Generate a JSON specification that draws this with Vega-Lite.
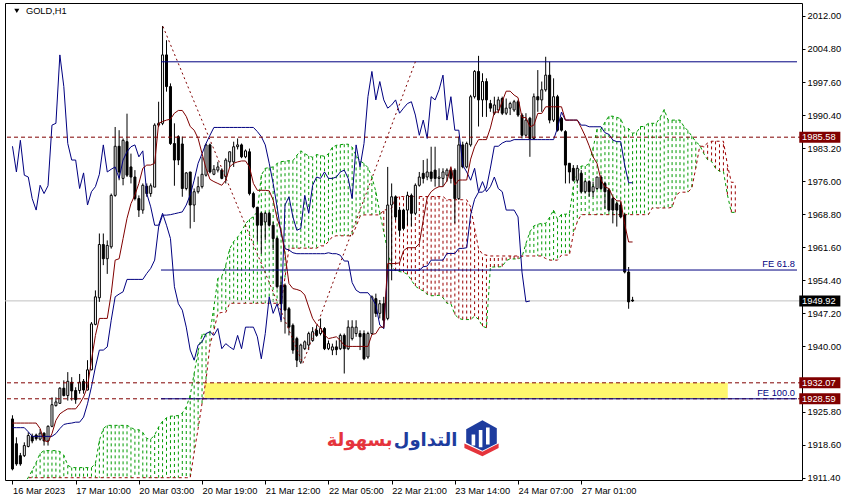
{
"$schema":"https://vega.github.io/schema/vega-lite/v6.json",
"width":797,"height":477,
"autosize":{"type":"none"},
"padding":{"left":5,"top":3,"right":49,"bottom":22},
"background":"#ffffff",
"config":{"view":{"stroke":"#000000","strokeWidth":1},"font":"Liberation Sans",
 "axis":{"labelOverlap":false,"labelSeparation":0,"labelBound":false,"labelFlush":false,"grid":false,"domain":false,"ticks":true,"tickColor":"#000000","labelColor":"#000000","labelFont":"Liberation Sans","labelFontSize":9.3,"labelPadding":2},
 "axisX":{"tickSize":4,"labelAlign":"left","labelDx":1,"labelBaseline":"top"},
 "axisY":{"tickSize":3,"labelBaseline":"middle","labelAlign":"left"}},
"datasets":{
"bars":[
{"i":0,"o":1924.2,"h":1925.0,"l":1913.0,"c":1913.3,"t":1923.3,"k":1922.3,"ch":1983.6},
{"i":1,"o":1918.8,"h":1920.2,"l":1914.0,"c":1914.4,"t":1923.3,"k":1922.3,"ch":1978.0},
{"i":2,"o":1916.2,"h":1916.8,"l":1914.0,"c":1914.4,"t":1923.3,"k":1922.3,"ch":1984.9},
{"i":3,"o":1916.2,"h":1919.1,"l":1915.9,"c":1918.4,"t":1923.3,"k":1922.3,"ch":1977.3},
{"i":4,"o":1918.2,"h":1921.3,"l":1918.0,"c":1920.6,"t":1923.3,"k":1921.4,"ch":1976.9},
{"i":5,"o":1920.4,"h":1921.0,"l":1918.9,"c":1919.4,"t":1923.3,"k":1920.4,"ch":1972.2},
{"i":6,"o":1920.7,"h":1921.0,"l":1919.5,"c":1919.9,"t":1923.3,"k":1920.4,"ch":1969.7},
{"i":7,"o":1919.8,"h":1922.0,"l":1919.5,"c":1921.1,"t":1922.1,"k":1920.4,"ch":1975.1},
{"i":8,"o":1921.1,"h":1921.3,"l":1918.4,"c":1919.4,"t":1919.5,"k":1920.4,"ch":1973.3},
{"i":9,"o":1919.4,"h":1922.8,"l":1918.4,"c":1922.6,"t":1919.2,"k":1920.4,"ch":1975.0},
{"i":10,"o":1922.6,"h":1928.9,"l":1922.4,"c":1927.3,"t":1921.0,"k":1920.4,"ch":1988.2},
{"i":11,"o":1927.1,"h":1928.9,"l":1926.9,"c":1927.9,"t":1923.9,"k":1921.0,"ch":1988.6},
{"i":12,"o":1927.6,"h":1931.1,"l":1927.5,"c":1930.9,"t":1925.3,"k":1922.1,"ch":2003.5},
{"i":13,"o":1930.9,"h":1932.6,"l":1929.1,"c":1929.3,"t":1925.9,"k":1923.0,"ch":1996.6},
{"i":14,"o":1929.3,"h":1934.4,"l":1928.2,"c":1932.4,"t":1926.4,"k":1923.2,"ch":1984.2},
{"i":15,"o":1932.2,"h":1933.3,"l":1928.2,"c":1930.3,"t":1926.4,"k":1923.3,"ch":1980.6},
{"i":16,"o":1930.4,"h":1931.1,"l":1927.5,"c":1928.4,"t":1926.4,"k":1923.5,"ch":1980.6},
{"i":17,"o":1930.4,"h":1934.0,"l":1929.7,"c":1932.2,"t":1927.5,"k":1923.5,"ch":1974.4},
{"i":18,"o":1932.4,"h":1932.9,"l":1929.7,"c":1930.5,"t":1929.0,"k":1924.6,"ch":1977.8},
{"i":19,"o":1930.5,"h":1937.0,"l":1930.4,"c":1934.9,"t":1931.2,"k":1927.5,"ch":1970.8},
{"i":20,"o":1934.9,"h":1945.3,"l":1934.8,"c":1944.9,"t":1937.0,"k":1931.2,"ch":1973.7},
{"i":21,"o":1944.8,"h":1952.2,"l":1944.6,"c":1950.8,"t":1942.4,"k":1935.5,"ch":1974.8},
{"i":22,"o":1950.6,"h":1964.6,"l":1949.7,"c":1962.2,"t":1946.1,"k":1939.2,"ch":1977.5},
{"i":23,"o":1962.2,"h":1964.6,"l":1957.7,"c":1959.1,"t":1946.1,"k":1939.2,"ch":1983.9},
{"i":24,"o":1959.1,"h":1963.1,"l":1955.8,"c":1962.0,"t":1946.1,"k":1939.9,"ch":1978.0},
{"i":25,"o":1961.7,"h":1973.3,"l":1961.3,"c":1972.9,"t":1951.5,"k":1945.7,"ch":1978.6},
{"i":26,"o":1972.9,"h":1987.8,"l":1972.6,"c":1983.6,"t":1958.8,"k":1950.8,"ch":1979.1},
{"i":27,"o":1983.6,"h":1987.1,"l":1976.2,"c":1978.0,"t":1959.1,"k":1951.4,"ch":1976.6},
{"i":28,"o":1976.6,"h":1985.3,"l":1975.1,"c":1984.9,"t":1963.5,"k":1951.9,"ch":1980.6},
{"i":29,"o":1984.6,"h":1990.7,"l":1976.9,"c":1977.3,"t":1967.9,"k":1954.6,"ch":1982.4},
{"i":30,"o":1979.1,"h":1982.0,"l":1975.5,"c":1976.9,"t":1971.1,"k":1954.6,"ch":1983.5},
{"i":31,"o":1976.9,"h":1978.4,"l":1971.8,"c":1972.2,"t":1973.0,"k":1954.6,"ch":1983.9},
{"i":32,"o":1972.2,"h":1972.9,"l":1968.2,"c":1969.7,"t":1975.5,"k":1954.6,"ch":1981.3},
{"i":33,"o":1969.7,"h":1975.5,"l":1968.9,"c":1975.1,"t":1978.8,"k":1954.6,"ch":1982.6},
{"i":34,"o":1974.9,"h":1975.5,"l":1972.6,"c":1973.3,"t":1979.5,"k":1955.9,"ch":1973.3},
{"i":35,"o":1973.3,"h":1975.5,"l":1972.6,"c":1975.0,"t":1979.5,"k":1957.0,"ch":1970.4},
{"i":36,"o":1974.7,"h":1988.6,"l":1974.7,"c":1988.2,"t":1979.9,"k":1958.8,"ch":1966.4},
{"i":37,"o":1988.2,"h":1993.3,"l":1987.8,"c":1988.6,"t":1988.6,"k":1966.0,"ch":1966.4},
{"i":38,"o":1988.6,"h":2009.8,"l":1988.2,"c":2003.5,"t":1989.0,"k":1968.6,"ch":1969.0},
{"i":39,"o":2003.5,"h":2006.7,"l":1995.5,"c":1996.6,"t":1989.3,"k":1968.6,"ch":1966.4},
{"i":40,"o":1996.6,"h":1997.3,"l":1983.9,"c":1984.2,"t":1989.5,"k":1968.7,"ch":1963.5},
{"i":41,"o":1984.2,"h":1988.6,"l":1975.0,"c":1980.6,"t":1990.8,"k":1968.9,"ch":1953.0},
{"i":42,"o":1985.7,"h":1986.0,"l":1979.5,"c":1980.6,"t":1991.4,"k":1969.1,"ch":1949.3},
{"i":43,"o":1984.1,"h":1985.7,"l":1972.6,"c":1974.4,"t":1991.4,"k":1969.3,"ch":1947.9},
{"i":44,"o":1974.4,"h":1978.0,"l":1974.0,"c":1977.8,"t":1990.1,"k":1970.8,"ch":1944.2},
{"i":45,"o":1978.0,"h":1978.0,"l":1965.7,"c":1970.8,"t":1987.9,"k":1973.0,"ch":1939.2},
{"i":46,"o":1970.8,"h":1974.4,"l":1967.1,"c":1973.7,"t":1987.1,"k":1976.2,"ch":1937.0},
{"i":47,"o":1973.7,"h":1977.0,"l":1973.3,"c":1974.8,"t":1985.3,"k":1979.9,"ch":1940.3},
{"i":48,"o":1974.8,"h":1981.3,"l":1974.4,"c":1977.5,"t":1982.0,"k":1982.0,"ch":1941.0},
{"i":49,"o":1977.3,"h":1984.2,"l":1977.0,"c":1983.9,"t":1978.8,"k":1984.2,"ch":1942.8},
{"i":50,"o":1983.9,"h":1984.2,"l":1977.7,"c":1978.0,"t":1976.4,"k":1986.0,"ch":1943.2},
{"i":51,"o":1977.5,"h":1979.5,"l":1977.3,"c":1978.6,"t":1975.9,"k":1987.7,"ch":1942.4},
{"i":52,"o":1978.4,"h":1980.2,"l":1977.9,"c":1979.1,"t":1975.5,"k":1987.7,"ch":1943.9},
{"i":53,"o":1978.4,"h":1978.8,"l":1976.4,"c":1976.6,"t":1975.1,"k":1987.7,"ch":1939.5},
{"i":54,"o":1977.0,"h":1981.0,"l":1975.5,"c":1980.6,"t":1976.2,"k":1987.7,"ch":1940.6},
{"i":55,"o":1980.2,"h":1982.4,"l":1979.1,"c":1982.4,"t":1979.1,"k":1987.7,"ch":1939.9},
{"i":56,"o":1980.2,"h":1984.6,"l":1979.1,"c":1983.5,"t":1979.9,"k":1987.7,"ch":1939.3},
{"i":57,"o":1983.5,"h":1985.3,"l":1982.9,"c":1983.9,"t":1980.2,"k":1987.7,"ch":1942.4},
{"i":58,"o":1983.9,"h":1984.2,"l":1981.0,"c":1981.3,"t":1980.4,"k":1987.7,"ch":1939.5},
{"i":59,"o":1981.3,"h":1982.9,"l":1981.0,"c":1982.6,"t":1980.4,"k":1987.7,"ch":1944.2},
{"i":60,"o":1982.4,"h":1983.1,"l":1972.9,"c":1973.3,"t":1979.1,"k":1987.7,"ch":1944.2},
{"i":61,"o":1973.3,"h":1973.7,"l":1970.1,"c":1970.4,"t":1975.5,"k":1987.7,"ch":1944.2},
{"i":62,"o":1970.3,"h":1970.4,"l":1962.8,"c":1966.4,"t":1974.0,"k":1986.8,"ch":1942.1},
{"i":63,"o":1969.0,"h":1969.3,"l":1960.2,"c":1966.4,"t":1974.0,"k":1985.7,"ch":1937.3},
{"i":64,"o":1967.1,"h":1969.3,"l":1963.2,"c":1969.0,"t":1974.0,"k":1983.9,"ch":1942.8},
{"i":65,"o":1969.0,"h":1969.3,"l":1966.1,"c":1966.4,"t":1973.9,"k":1979.9,"ch":1950.8},
{"i":66,"o":1966.4,"h":1967.1,"l":1961.0,"c":1963.5,"t":1971.9,"k":1975.5,"ch":1947.2},
{"i":67,"o":1963.5,"h":1963.9,"l":1952.6,"c":1953.0,"t":1967.9,"k":1970.4,"ch":1949.3},
{"i":68,"o":1953.3,"h":1955.2,"l":1945.3,"c":1949.3,"t":1965.3,"k":1964.6,"ch":1945.7},
{"i":69,"o":1953.3,"h":1953.7,"l":1942.8,"c":1947.9,"t":1960.2,"k":1961.3,"ch":1970.8},
{"i":70,"o":1948.2,"h":1948.6,"l":1942.4,"c":1944.2,"t":1953.7,"k":1961.0,"ch":1972.6},
{"i":71,"o":1944.6,"h":1945.0,"l":1938.4,"c":1939.2,"t":1952.6,"k":1960.4,"ch":1968.2},
{"i":72,"o":1941.7,"h":1942.1,"l":1935.5,"c":1937.0,"t":1952.4,"k":1960.2,"ch":1965.3},
{"i":73,"o":1936.6,"h":1940.6,"l":1936.2,"c":1940.3,"t":1952.1,"k":1960.2,"ch":1965.7},
{"i":74,"o":1939.5,"h":1941.3,"l":1939.2,"c":1941.0,"t":1951.2,"k":1960.2,"ch":1972.9},
{"i":75,"o":1940.3,"h":1943.2,"l":1939.2,"c":1942.8,"t":1948.6,"k":1960.2,"ch":1969.0},
{"i":76,"o":1941.3,"h":1944.2,"l":1941.0,"c":1943.2,"t":1946.1,"k":1960.2,"ch":1975.1},
{"i":77,"o":1943.5,"h":1944.6,"l":1942.1,"c":1942.4,"t":1944.8,"k":1960.2,"ch":1976.9},
{"i":78,"o":1942.8,"h":1946.1,"l":1942.4,"c":1943.9,"t":1944.0,"k":1960.2,"ch":1976.6},
{"i":79,"o":1943.9,"h":1944.2,"l":1939.2,"c":1939.5,"t":1942.5,"k":1960.2,"ch":1978.0},
{"i":80,"o":1939.5,"h":1941.3,"l":1939.2,"c":1940.6,"t":1941.7,"k":1960.4,"ch":1976.6},
{"i":81,"o":1939.2,"h":1940.6,"l":1938.1,"c":1939.9,"t":1941.9,"k":1960.2,"ch":1976.6},
{"i":82,"o":1939.9,"h":1941.3,"l":1938.1,"c":1939.3,"t":1942.1,"k":1960.2,"ch":1976.9},
{"i":83,"o":1939.5,"h":1942.8,"l":1939.2,"c":1942.4,"t":1941.3,"k":1959.85,"ch":1978.0},
{"i":84,"o":1942.4,"h":1942.8,"l":1934.1,"c":1939.5,"t":1940.2,"k":1958.6,"ch":1978.4},
{"i":85,"o":1939.5,"h":1945.7,"l":1939.2,"c":1944.2,"t":1940.0,"k":1958.6,"ch":1976.6},
{"i":86,"o":1941.7,"h":1945.7,"l":1941.3,"c":1944.2,"t":1940.0,"k":1953.9,"ch":1972.2},
{"i":87,"o":1942.8,"h":1945.7,"l":1942.1,"c":1944.2,"t":1940.0,"k":1952.25,"ch":1983.9},
{"i":88,"o":1942.8,"h":1943.5,"l":1939.2,"c":1942.1,"t":1940.0,"k":1951.7,"ch":1979.1},
{"i":89,"o":1942.8,"h":1943.5,"l":1937.0,"c":1937.3,"t":1940.0,"k":1951.7,"ch":1984.2},
{"i":90,"o":1937.7,"h":1943.2,"l":1937.3,"c":1942.8,"t":1940.0,"k":1951.7,"ch":1994.4},
{"i":91,"o":1942.8,"h":1951.1,"l":1942.6,"c":1950.8,"t":1942.6,"k":1950.6,"ch":1999.9},
{"i":92,"o":1950.4,"h":1951.5,"l":1946.4,"c":1947.2,"t":1942.8,"k":1949.0,"ch":1993.7},
{"i":93,"o":1947.2,"h":1950.1,"l":1946.1,"c":1949.3,"t":1944.2,"k":1944.65,"ch":1997.7},
{"i":94,"o":1949.3,"h":1950.8,"l":1943.9,"c":1945.7,"t":1944.2,"k":1943.9,"ch":1993.7},
{"i":95,"o":1946.1,"h":1979.1,"l":1945.7,"c":1970.8,"t":1958.05,"k":1956.6,"ch":1991.9},
{"i":96,"o":1970.8,"h":1975.5,"l":1954.4,"c":1972.6,"t":1958.05,"k":1956.6,"ch":1992.6},
{"i":97,"o":1972.6,"h":1972.9,"l":1967.5,"c":1968.2,"t":1958.05,"k":1956.6,"ch":1993.7},
{"i":98,"o":1969.7,"h":1970.4,"l":1963.9,"c":1965.3,"t":1958.2,"k":1956.6,"ch":1990.8},
{"i":99,"o":1969.7,"h":1970.0,"l":1965.3,"c":1965.7,"t":1960.85,"k":1956.6,"ch":1991.9},
{"i":100,"o":1969.7,"h":1973.7,"l":1966.4,"c":1972.9,"t":1961.5,"k":1956.6,"ch":1992.9},
{"i":101,"o":1972.9,"h":1973.3,"l":1966.1,"c":1969.0,"t":1961.5,"k":1956.6,"ch":1993.3},
{"i":102,"o":1969.0,"h":1975.5,"l":1968.6,"c":1975.1,"t":1961.5,"k":1956.6,"ch":1990.4},
{"i":103,"o":1975.1,"h":1978.0,"l":1974.8,"c":1976.9,"t":1962.4,"k":1956.6,"ch":1986.0},
{"i":104,"o":1977.7,"h":1980.6,"l":1975.5,"c":1976.6,"t":1967.5,"k":1957.35,"ch":1989.3},
{"i":105,"o":1976.9,"h":1980.9,"l":1976.2,"c":1978.0,"t":1972.4,"k":1957.5,"ch":1985.3},
{"i":106,"o":1978.0,"h":1983.5,"l":1975.9,"c":1976.6,"t":1973.7,"k":1958.8,"ch":1994.4},
{"i":107,"o":1978.4,"h":1983.5,"l":1974.8,"c":1976.6,"t":1974.4,"k":1958.8,"ch":1993.7},
{"i":108,"o":1976.6,"h":1978.8,"l":1974.8,"c":1976.9,"t":1974.8,"k":1958.8,"ch":1995.9},
{"i":109,"o":1976.6,"h":1978.8,"l":1974.8,"c":1978.0,"t":1974.8,"k":1958.8,"ch":1999.1},
{"i":110,"o":1977.3,"h":1978.8,"l":1975.9,"c":1978.4,"t":1976.05,"k":1960.25,"ch":1989.3},
{"i":111,"o":1978.4,"h":1978.8,"l":1975.5,"c":1976.6,"t":1979.15,"k":1960.25,"ch":1994.4},
{"i":112,"o":1978.4,"h":1978.8,"l":1966.8,"c":1972.2,"t":1975.15,"k":1960.25,"ch":1987.1},
{"i":113,"o":1972.2,"h":1985.7,"l":1971.9,"c":1983.9,"t":1976.25,"k":1961.35,"ch":1987.1},
{"i":114,"o":1983.9,"h":1984.6,"l":1978.8,"c":1979.1,"t":1976.25,"k":1961.35,"ch":1979.5},
{"i":115,"o":1979.1,"h":1984.6,"l":1978.8,"c":1984.2,"t":1976.25,"k":1961.5,"ch":1978.0},
{"i":116,"o":1983.9,"h":1994.8,"l":1983.5,"c":1994.4,"t":1980.8,"k":1968.7,"ch":1976.2},
{"i":117,"o":1994.4,"h":2000.2,"l":1994.0,"c":1999.9,"t":1983.5,"k":1972.05,"ch":1978.8},
{"i":118,"o":1999.9,"h":2003.3,"l":1987.9,"c":1993.7,"t":1985.05,"k":1973.6,"ch":1973.7},
{"i":119,"o":1993.7,"h":1999.5,"l":1990.0,"c":1997.7,"t":1985.05,"k":1973.6,"ch":1975.9},
{"i":120,"o":1997.7,"h":1998.4,"l":1990.0,"c":1993.7,"t":1985.05,"k":1974.5,"ch":1973.7},
{"i":121,"o":1992.9,"h":1993.7,"l":1991.1,"c":1991.9,"t":1987.6,"k":1978.85,"ch":1974.8},
{"i":122,"o":1990.8,"h":1994.4,"l":1990.4,"c":1992.6,"t":1991.05,"k":1983.6,"ch":1976.9},
{"i":123,"o":1991.5,"h":1994.4,"l":1990.8,"c":1993.7,"t":1991.05,"k":1983.6,"ch":1974.4},
{"i":124,"o":1994.0,"h":1994.4,"l":1990.4,"c":1990.8,"t":1993.4,"k":1984.3,"ch":1973.7},
{"i":125,"o":1990.8,"h":1994.0,"l":1990.4,"c":1991.9,"t":1995.6,"k":1984.7,"ch":1969.7},
{"i":126,"o":1991.9,"h":1993.3,"l":1990.4,"c":1992.9,"t":1995.6,"k":1984.7,"ch":1969.7},
{"i":127,"o":1991.5,"h":1993.7,"l":1991.1,"c":1993.3,"t":1994.75,"k":1985.05,"ch":1969.7},
{"i":128,"o":1993.3,"h":1993.7,"l":1990.0,"c":1990.4,"t":1994.2,"k":1985.05,"ch":1968.2},
{"i":129,"o":1990.4,"h":1990.8,"l":1985.3,"c":1986.0,"t":1989.85,"k":1985.05,"ch":1956.2},
{"i":130,"o":1986.0,"h":1990.8,"l":1985.7,"c":1989.3,"t":1989.85,"k":1985.05,"ch":1949.7},
{"i":131,"o":1989.7,"h":1990.0,"l":1981.3,"c":1985.3,"t":1987.85,"k":1985.05,"ch":1949.9},
{"i":132,"o":1985.3,"h":1995.1,"l":1985.0,"c":1994.4,"t":1988.2,"k":1985.05},
{"i":133,"o":1994.4,"h":2000.2,"l":1991.1,"c":1993.7,"t":1990.75,"k":1985.05},
{"i":134,"o":1993.7,"h":1997.7,"l":1991.1,"c":1995.9,"t":1990.75,"k":1985.05},
{"i":135,"o":1995.9,"h":2003.1,"l":1995.5,"c":1999.1,"t":1992.2,"k":1985.05},
{"i":136,"o":1999.1,"h":2002.0,"l":1988.6,"c":1989.3,"t":1992.2,"k":1985.05},
{"i":137,"o":1989.3,"h":1998.4,"l":1988.9,"c":1994.4,"t":1992.2,"k":1985.05},
{"i":138,"o":1994.4,"h":1994.8,"l":1986.8,"c":1987.1,"t":1992.2,"k":1987.6},
{"i":139,"o":1989.7,"h":1990.0,"l":1986.8,"c":1987.1,"t":1992.2,"k":1991.05},
{"i":140,"o":1986.8,"h":1987.1,"l":1975.5,"c":1979.5,"t":1989.3,"k":1989.3},
{"i":141,"o":1979.9,"h":1979.9,"l":1975.5,"c":1978.0,"t":1989.3,"k":1989.3},
{"i":142,"o":1978.8,"h":1979.5,"l":1975.9,"c":1976.2,"t":1989.3,"k":1989.3},
{"i":143,"o":1976.2,"h":1979.5,"l":1975.5,"c":1978.8,"t":1989.3,"k":1989.3},
{"i":144,"o":1977.7,"h":1978.4,"l":1973.3,"c":1973.7,"t":1987.65,"k":1988.2},
{"i":145,"o":1973.7,"h":1976.2,"l":1973.3,"c":1975.9,"t":1985.85,"k":1988.2},
{"i":146,"o":1975.9,"h":1976.2,"l":1972.6,"c":1973.7,"t":1983.7,"k":1987.85},
{"i":147,"o":1973.7,"h":1975.9,"l":1972.6,"c":1974.8,"t":1981.3,"k":1987.85},
{"i":148,"o":1974.4,"h":1976.9,"l":1974.1,"c":1976.9,"t":1979.85,"k":1987.85},
{"i":149,"o":1976.9,"h":1977.3,"l":1974.1,"c":1974.4,"t":1976.25,"k":1987.85},
{"i":150,"o":1975.5,"h":1975.9,"l":1970.0,"c":1973.7,"t":1974.75,"k":1986.55},
{"i":151,"o":1974.1,"h":1974.4,"l":1969.3,"c":1969.7,"t":1974.4,"k":1986.2},
{"i":152,"o":1972.2,"h":1972.6,"l":1966.8,"c":1969.7,"t":1972.6,"k":1984.95},
{"i":153,"o":1971.1,"h":1971.5,"l":1966.1,"c":1969.7,"t":1971.7,"k":1984.6},
{"i":154,"o":1970.8,"h":1971.5,"l":1967.9,"c":1968.2,"t":1971.7,"k":1984.6},
{"i":155,"o":1968.6,"h":1969.0,"l":1955.9,"c":1956.2,"t":1966.6,"k":1979.5},
{"i":156,"o":1956.2,"h":1957.3,"l":1948.2,"c":1949.7,"t":1962.75,"k":1975.65},
{"i":157,"o":1950.1,"h":1950.8,"l":1949.7,"c":1949.9,"t":1962.75,"k":1975.65}
],
"cloud":[
{"i":0,"a":1907,"b":1909},{"i":1,"a":1908,"b":1909},{"i":2,"a":1909,"b":1909},{"i":3,"a":1910,"b":1909},
{"i":4,"a":1911.45,"b":1911.4},{"i":5,"a":1913.0,"b":1911.4},{"i":6,"a":1914.7,"b":1911.4},{"i":7,"a":1916.7,"b":1911.4},
{"i":8,"a":1917.3,"b":1911.4},{"i":9,"a":1917.3,"b":1911.4},{"i":10,"a":1917.3,"b":1911.4},{"i":11,"a":1917.3,"b":1911.4},
{"i":12,"a":1917.1,"b":1911.4},{"i":13,"a":1916.3,"b":1911.4},{"i":14,"a":1914.1,"b":1911.4},{"i":15,"a":1913.6,"b":1911.4},
{"i":16,"a":1913.6,"b":1911.4},{"i":17,"a":1913.6,"b":1911.4},{"i":18,"a":1913.6,"b":1911.4},{"i":19,"a":1913.6,"b":1911.4},
{"i":20,"a":1913.6,"b":1911.4},{"i":21,"a":1914.5,"b":1911.4},{"i":22,"a":1919.5,"b":1911.4},{"i":23,"a":1922.1,"b":1911.4},
{"i":24,"a":1922.8,"b":1911.4},{"i":25,"a":1922.8,"b":1911.4},{"i":26,"a":1922.8,"b":1911.4},{"i":27,"a":1922.8,"b":1911.4},
{"i":28,"a":1922.8,"b":1911.4},{"i":29,"a":1922.8,"b":1911.4},{"i":30,"a":1922.35,"b":1911.4},{"i":31,"a":1921.85,"b":1911.4},
{"i":32,"a":1921.85,"b":1911.4},{"i":33,"a":1921.25,"b":1911.4},{"i":34,"a":1919.95,"b":1911.4},{"i":35,"a":1919.8,"b":1911.4},
{"i":36,"a":1920.7,"b":1911.4},{"i":37,"a":1922.45,"b":1911.4},{"i":38,"a":1923.7,"b":1911.4},{"i":39,"a":1924.45,"b":1911.4},
{"i":40,"a":1924.8,"b":1911.4},{"i":41,"a":1924.85,"b":1911.4},{"i":42,"a":1924.95,"b":1911.4},{"i":43,"a":1925.5,"b":1911.4},
{"i":44,"a":1926.8,"b":1911.4},{"i":45,"a":1929.35,"b":1911.4},{"i":46,"a":1934.1,"b":1916.9},{"i":47,"a":1938.95,"b":1922.1},
{"i":48,"a":1942.65,"b":1927.6},{"i":49,"a":1942.65,"b":1932.6},{"i":50,"a":1943.0,"b":1940.3},{"i":51,"a":1948.6,"b":1943.5},
{"i":52,"a":1954.8,"b":1947.2},{"i":53,"a":1955.25,"b":1947.4},{"i":54,"a":1957.7,"b":1947.4},{"i":55,"a":1961.25,"b":1949.4},
{"i":56,"a":1962.85,"b":1949.4},{"i":57,"a":1963.8,"b":1949.4},{"i":58,"a":1965.05,"b":1949.4},{"i":59,"a":1966.7,"b":1949.4},
{"i":60,"a":1967.7,"b":1949.4},{"i":61,"a":1968.25,"b":1949.4},{"i":62,"a":1969.35,"b":1949.4},{"i":63,"a":1977.3,"b":1949.4},
{"i":64,"a":1978.8,"b":1949.4},{"i":65,"a":1978.95,"b":1949.4},{"i":66,"a":1979.1,"b":1949.4},{"i":67,"a":1979.85,"b":1949.4},
{"i":68,"a":1980.25,"b":1949.4},{"i":69,"a":1980.35,"b":1955.0},{"i":70,"a":1980.45,"b":1961.4},{"i":71,"a":1980.45,"b":1961.4},
{"i":72,"a":1981.65,"b":1961.4},{"i":73,"a":1982.6,"b":1961.4},{"i":74,"a":1982.0,"b":1961.4},{"i":75,"a":1981.5,"b":1961.4},
{"i":76,"a":1981.2,"b":1961.4},{"i":77,"a":1981.8,"b":1961.4},{"i":78,"a":1981.6,"b":1961.9},{"i":79,"a":1981.4,"b":1961.9},
{"i":80,"a":1981.95,"b":1962.85},{"i":81,"a":1983.4,"b":1963.9},{"i":82,"a":1983.8,"b":1964.1},{"i":83,"a":1983.95,"b":1964.1},
{"i":84,"a":1984.05,"b":1964.1},{"i":85,"a":1984.05,"b":1964.1},{"i":86,"a":1983.4,"b":1964.1},{"i":87,"a":1981.6,"b":1966.1},
{"i":88,"a":1980.4,"b":1968.35},{"i":89,"a":1979.85,"b":1968.65},{"i":90,"a":1978.95,"b":1968.65},{"i":91,"a":1976.9,"b":1968.65},
{"i":92,"a":1973.7,"b":1968.65},{"i":93,"a":1969.15,"b":1968.65},{"i":94,"a":1964.95,"b":1969.75},{"i":95,"a":1960.75,"b":1969.75},
{"i":96,"a":1957.35,"b":1970.1},{"i":97,"a":1956.5,"b":1972.3},{"i":98,"a":1956.3,"b":1972.65},{"i":99,"a":1956.15,"b":1972.65},
{"i":100,"a":1955.7,"b":1972.65},{"i":101,"a":1954.4,"b":1972.65},{"i":102,"a":1953.15,"b":1972.65},{"i":103,"a":1952.5,"b":1972.65},
{"i":104,"a":1952.1,"b":1972.65},{"i":105,"a":1951.35,"b":1972.65},{"i":106,"a":1951.05,"b":1972.65},{"i":107,"a":1951.05,"b":1972.65},
{"i":108,"a":1951.15,"b":1972.65},{"i":109,"a":1950.6,"b":1972.65},{"i":110,"a":1949.4,"b":1971.95},{"i":111,"a":1949.3,"b":1971.95},
{"i":112,"a":1946.95,"b":1971.95},{"i":113,"a":1946.1,"b":1971.95},{"i":114,"a":1945.85,"b":1971.95},{"i":115,"a":1945.85,"b":1971.95},
{"i":116,"a":1945.85,"b":1970.4},{"i":117,"a":1946.6,"b":1965.7},{"i":118,"a":1945.9,"b":1961.35},{"i":119,"a":1944.4,"b":1960.05},
{"i":120,"a":1944.05,"b":1959.9},{"i":121,"a":1957.3,"b":1959.7},{"i":122,"a":1957.3,"b":1959.7},{"i":123,"a":1957.3,"b":1959.7},
{"i":124,"a":1957.4,"b":1959.7},{"i":125,"a":1958.7,"b":1959.7},{"i":126,"a":1959.05,"b":1959.7},{"i":127,"a":1959.05,"b":1959.7},
{"i":128,"a":1959.05,"b":1959.7},{"i":129,"a":1959.5,"b":1959.7},{"i":130,"a":1962.4,"b":1959.7},{"i":131,"a":1964.95,"b":1959.7},
{"i":132,"a":1966.25,"b":1959.7},{"i":133,"a":1966.6,"b":1959.7},{"i":134,"a":1966.8,"b":1959.7},{"i":135,"a":1966.8,"b":1959.15},
{"i":136,"a":1968.15,"b":1958.8},{"i":137,"a":1969.7,"b":1958.8},{"i":138,"a":1967.7,"b":1958.8},{"i":139,"a":1968.8,"b":1959.9},
{"i":140,"a":1968.8,"b":1959.9},{"i":141,"a":1968.9,"b":1959.9},{"i":142,"a":1974.75,"b":1964.45},{"i":143,"a":1977.8,"b":1967.15},
{"i":144,"a":1979.3,"b":1968.7},{"i":145,"a":1979.3,"b":1968.7},{"i":146,"a":1979.8,"b":1968.7},{"i":147,"a":1983.2,"b":1968.7},
{"i":148,"a":1987.3,"b":1968.7},{"i":149,"a":1987.3,"b":1968.7},{"i":150,"a":1988.85,"b":1968.7},{"i":151,"a":1990.15,"b":1968.7},
{"i":152,"a":1990.15,"b":1968.7},{"i":153,"a":1989.9,"b":1968.7},{"i":154,"a":1989.6,"b":1968.7},{"i":155,"a":1987.45,"b":1968.7},
{"i":156,"a":1987.45,"b":1968.7},{"i":157,"a":1986.45,"b":1968.7},{"i":158,"a":1986.6,"b":1968.7},{"i":159,"a":1987.9,"b":1968.7},
{"i":160,"a":1987.9,"b":1968.7},{"i":161,"a":1988.6,"b":1968.7},{"i":162,"a":1988.6,"b":1970.15},{"i":163,"a":1988.6,"b":1970.15},
{"i":164,"a":1989.9,"b":1970.15},{"i":165,"a":1991.6,"b":1970.15},{"i":166,"a":1989.3,"b":1970.15},{"i":167,"a":1989.3,"b":1970.3},
{"i":168,"a":1989.3,"b":1972.95},{"i":169,"a":1989.3,"b":1973.6},{"i":170,"a":1987.9,"b":1973.6},{"i":171,"a":1987.0,"b":1973.6},
{"i":172,"a":1985.8,"b":1974.5},{"i":173,"a":1984.6,"b":1978.85},{"i":174,"a":1983.85,"b":1983.6},{"i":175,"a":1982.05,"b":1983.6},
{"i":176,"a":1980.65,"b":1984.3},{"i":177,"a":1980.3,"b":1984.7},{"i":178,"a":1978.8,"b":1984.7},{"i":179,"a":1978.15,"b":1984.7},
{"i":180,"a":1978.15,"b":1984.7},{"i":181,"a":1973.05,"b":1979.6},{"i":182,"a":1969.2,"b":1975.75},{"i":183,"a":1969.2,"b":1975.75}
],
"zone":[{"x1":48.6,"x2":181.1,"p1":1932.07,"p2":1928.59}],
"levels":[{"p":1985.58},{"p":1932.07},{"p":1928.59}],
"bid":[{"p":1949.92}],
"fe":[{"s":37.6,"e":198.625,"p":2002.0},{"s":37.6,"e":198.625,"p":1956.64},{"s":37.6,"e":198.625,"p":1928.59}],
"fepath":[{"i":38.1,"p":2009.7},{"i":73.5,"p":1936.3},{"i":102,"p":2002.0}],
"fetext":[{"i":198.1,"p":1956.64,"t":"FE 61.8"},{"i":198.1,"p":1928.59,"t":"FE 100.0"}],
"tags":[{"p":1985.58,"t":"1985.58","k":"m"},{"p":1949.92,"t":"1949.92","k":"b"},{"p":1932.07,"t":"1932.07","k":"m"},{"p":1928.59,"t":"1928.59","k":"m"}],
"head":[{"i":3.4,"p":2013.07,"t":"GOLD,H1"}],
"mark":[{"i":1.1,"p":2013.1}],
"logo":[{"i":118.75,"p":1920.2}],
"brand":[{"i":104.6,"p":1919.4,"t":"التداول","g":"a"},{"i":87.9,"p":1919.4,"t":"بسهولة","g":"b"}]
},
"layer":[
{"data":{"name":"zone"},"mark":{"type":"rect","fill":"#fff76e"},
 "encoding":{"x":{"field":"x1","type":"quantitative","title":null,"scale":{"domain":[-0.625,198.625],"nice":false,"zero":false},
   "axis":{"orient":"bottom","values":[0,16,32,48,64,80,96,112,128,144],"tickCount":40,
    "labelExpr":"['16 Mar 2023','17 Mar 10:00','20 Mar 03:00','20 Mar 19:00','21 Mar 12:00','22 Mar 05:00','22 Mar 21:00','23 Mar 14:00','24 Mar 07:00','27 Mar 01:00'][round(datum.value/16)]",
    "title":null,"labelOverlap":false}},
  "x2":{"field":"x2"},
  "y":{"field":"p1","type":"quantitative","title":null,"scale":{"domain":[1910.9,2014.81],"nice":false,"zero":false},
   "axis":{"orient":"right","values":[2012,2004.8,1997.6,1990.4,1983.2,1976,1968.8,1961.6,1954.4,1947.2,1940,1925.8,1918.6,1911.4],"tickCount":40,"format":".2f",
    "title":null,"labelOverlap":false}},
  "y2":{"field":"p2"}}},
{"data":{"name":"cloud"},"mark":{"type":"rule","strokeDash":[3,3],"strokeWidth":1,"clip":true},
 "encoding":{"x":{"field":"i","type":"quantitative","title":null,"scale":{"domain":[-0.625,198.625],"nice":false,"zero":false}},
  "y":{"field":"a","type":"quantitative","title":null,"scale":{"domain":[1910.9,2014.81],"nice":false,"zero":false}},
  "y2":{"field":"b"},
  "color":{"condition":{"test":"datum.a >= datum.b","value":"#009a00"},"value":"#9b0000"}}},
{"data":{"name":"cloud"},"mark":{"type":"line","strokeDash":[3,3],"strokeWidth":1,"color":"#9b0000","clip":true},
 "encoding":{"x":{"field":"i","type":"quantitative","title":null,"scale":{"domain":[-0.625,198.625],"nice":false,"zero":false}},
  "y":{"field":"b","type":"quantitative","title":null,"scale":{"domain":[1910.9,2014.81],"nice":false,"zero":false}}}},
{"data":{"name":"cloud"},"mark":{"type":"line","strokeDash":[3,3],"strokeWidth":1,"color":"#009a00","clip":true},
 "encoding":{"x":{"field":"i","type":"quantitative","title":null,"scale":{"domain":[-0.625,198.625],"nice":false,"zero":false}},
  "y":{"field":"a","type":"quantitative","title":null,"scale":{"domain":[1910.9,2014.81],"nice":false,"zero":false}}}},
{"data":{"name":"bid"},"mark":{"type":"rule","color":"#c0c0c0","strokeWidth":1},
 "encoding":{"y":{"field":"p","type":"quantitative","title":null,"scale":{"domain":[1910.9,2014.81],"nice":false,"zero":false}}}},
{"data":{"name":"bars"},"mark":{"type":"rule","color":"#000000","strokeWidth":1},
 "encoding":{"x":{"field":"i","type":"quantitative","title":null,"scale":{"domain":[-0.625,198.625],"nice":false,"zero":false}},
  "y":{"field":"l","type":"quantitative","title":null,"scale":{"domain":[1910.9,2014.81],"nice":false,"zero":false}},
  "y2":{"field":"h"}}},
{"data":{"name":"bars"},"mark":{"type":"bar","width":2,"strokeWidth":1,"stroke":"#000000"},
 "encoding":{"x":{"field":"i","type":"quantitative","title":null,"scale":{"domain":[-0.625,198.625],"nice":false,"zero":false}},
  "y":{"field":"o","type":"quantitative","title":null,"scale":{"domain":[1910.9,2014.81],"nice":false,"zero":false}},
  "y2":{"field":"c"},
  "fill":{"condition":{"test":"datum.c >= datum.o","value":"#ffffff"},"value":"#000000"}}},
{"data":{"name":"bars"},"transform":[{"filter":"isValid(datum.ch)"}],"mark":{"type":"line","color":"#000080","strokeWidth":1},
 "encoding":{"x":{"field":"i","type":"quantitative","title":null,"scale":{"domain":[-0.625,198.625],"nice":false,"zero":false}},
  "y":{"field":"ch","type":"quantitative","title":null,"scale":{"domain":[1910.9,2014.81],"nice":false,"zero":false}}}},
{"data":{"name":"bars"},"mark":{"type":"line","color":"#000080","strokeWidth":1},
 "encoding":{"x":{"field":"i","type":"quantitative","title":null,"scale":{"domain":[-0.625,198.625],"nice":false,"zero":false}},
  "y":{"field":"k","type":"quantitative","title":null,"scale":{"domain":[1910.9,2014.81],"nice":false,"zero":false}}}},
{"data":{"name":"bars"},"mark":{"type":"line","color":"#800000","strokeWidth":1},
 "encoding":{"x":{"field":"i","type":"quantitative","title":null,"scale":{"domain":[-0.625,198.625],"nice":false,"zero":false}},
  "y":{"field":"t","type":"quantitative","title":null,"scale":{"domain":[1910.9,2014.81],"nice":false,"zero":false}}}},
{"data":{"name":"levels"},"mark":{"type":"rule","color":"#800000","strokeWidth":1,"strokeDash":[4,3]},
 "encoding":{"y":{"field":"p","type":"quantitative","title":null,"scale":{"domain":[1910.9,2014.81],"nice":false,"zero":false}}}},
{"data":{"name":"fe"},"mark":{"type":"rule","color":"#000080","strokeWidth":1},
 "encoding":{"x":{"field":"s","type":"quantitative","title":null,"scale":{"domain":[-0.625,198.625],"nice":false,"zero":false}},
  "x2":{"field":"e"},
  "y":{"field":"p","type":"quantitative","title":null,"scale":{"domain":[1910.9,2014.81],"nice":false,"zero":false}}}},
{"data":{"name":"fepath"},"mark":{"type":"line","color":"#800000","strokeWidth":1,"strokeDash":[2,3]},
 "encoding":{"x":{"field":"i","type":"quantitative","title":null,"scale":{"domain":[-0.625,198.625],"nice":false,"zero":false}},
  "y":{"field":"p","type":"quantitative","title":null,"scale":{"domain":[1910.9,2014.81],"nice":false,"zero":false}}}},
{"data":{"name":"fetext"},"mark":{"type":"text","align":"right","baseline":"bottom","dy":-1,"color":"#000080","font":"Liberation Sans","fontSize":9.3},
 "encoding":{"x":{"field":"i","type":"quantitative","title":null,"scale":{"domain":[-0.625,198.625],"nice":false,"zero":false}},
  "y":{"field":"p","type":"quantitative","title":null,"scale":{"domain":[1910.9,2014.81],"nice":false,"zero":false}},
  "text":{"field":"t"}}},
{"data":{"name":"tags"},"mark":{"type":"rect","yOffset":-5.5,"y2Offset":5.5},
 "encoding":{"x":{"datum":199.2,"type":"quantitative","title":null,"scale":{"domain":[-0.625,198.625],"nice":false,"zero":false}},
  "x2":{"datum":209.6},
  "y":{"field":"p","type":"quantitative","title":null,"scale":{"domain":[1910.9,2014.81],"nice":false,"zero":false}},
  "y2":{"field":"p"},
  "fill":{"condition":{"test":"datum.k == 'b'","value":"#000000"},"value":"#800000"}}},
{"data":{"name":"tags"},"mark":{"type":"text","align":"left","baseline":"middle","color":"#ffffff","font":"Liberation Sans","fontSize":9.3},
 "encoding":{"x":{"datum":199.9,"type":"quantitative","title":null,"scale":{"domain":[-0.625,198.625],"nice":false,"zero":false}},
  "y":{"field":"p","type":"quantitative","title":null,"scale":{"domain":[1910.9,2014.81],"nice":false,"zero":false}},
  "text":{"field":"t"}}},
{"data":{"name":"mark"},"mark":{"type":"point","shape":"triangle-down","filled":true,"size":26,"color":"#000000","opacity":1},
 "encoding":{"x":{"field":"i","type":"quantitative","title":null,"scale":{"domain":[-0.625,198.625],"nice":false,"zero":false}},
  "y":{"field":"p","type":"quantitative","title":null,"scale":{"domain":[1910.9,2014.81],"nice":false,"zero":false}}}},
{"data":{"name":"head"},"mark":{"type":"text","align":"left","baseline":"middle","color":"#000000","font":"Liberation Sans","fontSize":9.3},
 "encoding":{"x":{"field":"i","type":"quantitative","title":null,"scale":{"domain":[-0.625,198.625],"nice":false,"zero":false}},
  "y":{"field":"p","type":"quantitative","title":null,"scale":{"domain":[1910.9,2014.81],"nice":false,"zero":false}},
  "text":{"field":"t"}}},
{"data":{"name":"logo"},"mark":{"type":"point","shape":"M-0.95,0.35 L0.05,0.8 L0.95,0.35 L0.95,0.6 L0.05,1.05 L-0.95,0.6 Z","filled":true,"size":1296,"color":"#e5343c","opacity":1},
 "encoding":{"x":{"field":"i","type":"quantitative","title":null,"scale":{"domain":[-0.625,198.625],"nice":false,"zero":false}},
  "y":{"field":"p","type":"quantitative","title":null,"scale":{"domain":[1910.9,2014.81],"nice":false,"zero":false}}}},
{"data":{"name":"logo"},"mark":{"type":"point","shape":"M-0.85,-0.45 L0.05,-0.95 L0.85,-0.5 L0.85,0.35 L0.05,0.75 L-0.85,0.3 Z","filled":true,"size":1296,"color":"#1e3c9e","opacity":1},
 "encoding":{"x":{"field":"i","type":"quantitative","title":null,"scale":{"domain":[-0.625,198.625],"nice":false,"zero":false}},
  "y":{"field":"p","type":"quantitative","title":null,"scale":{"domain":[1910.9,2014.81],"nice":false,"zero":false}}}},
{"data":{"name":"logo"},"mark":{"type":"point","shape":"M-0.55,-0.15 L-0.35,-0.15 L-0.35,0.45 L-0.55,0.45 Z M-0.15,-0.4 L0.05,-0.4 L0.05,0.55 L-0.15,0.55 Z M0.25,-0.55 L0.45,-0.55 L0.45,0.4 L0.25,0.4 Z","filled":true,"size":1296,"color":"#ffffff","opacity":1},
 "encoding":{"x":{"field":"i","type":"quantitative","title":null,"scale":{"domain":[-0.625,198.625],"nice":false,"zero":false}},
  "y":{"field":"p","type":"quantitative","title":null,"scale":{"domain":[1910.9,2014.81],"nice":false,"zero":false}}}},
{"data":{"name":"brand"},"mark":{"type":"text","align":"center","baseline":"middle","font":"DejaVu Sans","fontWeight":"bold","fontSize":18},
 "encoding":{"x":{"field":"i","type":"quantitative","title":null,"scale":{"domain":[-0.625,198.625],"nice":false,"zero":false}},
  "y":{"field":"p","type":"quantitative","title":null,"scale":{"domain":[1910.9,2014.81],"nice":false,"zero":false}},
  "text":{"field":"t"},
  "color":{"condition":{"test":"datum.g == 'a'","value":"#1e3c9e"},"value":"#e5343c"}}}
]
}
